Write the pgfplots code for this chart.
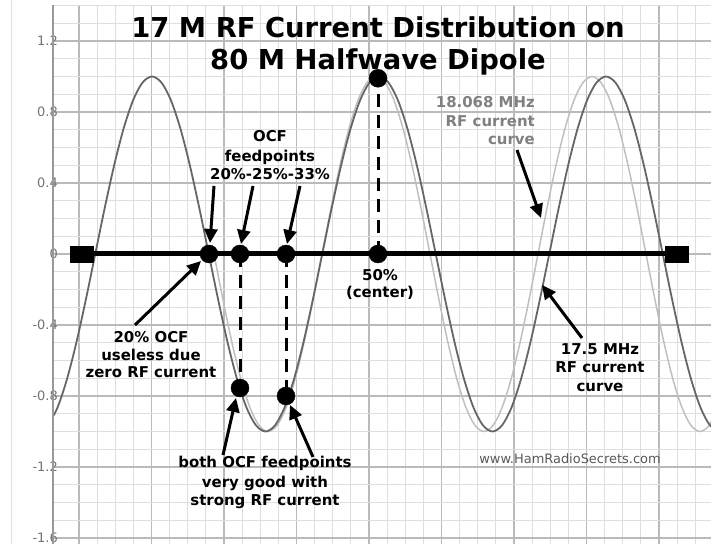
\documentclass[border=0pt]{standalone}
\usepackage{pgfplots}
\pgfplotsset{compat=1.18}
\usepackage{fontspec}
\setmainfont{DejaVu Sans}
\usetikzlibrary{arrows.meta}
\definecolor{darkcurve}{gray}{0.40}
\definecolor{lightcurve}{gray}{0.75}
\definecolor{txtgray}{gray}{0.50}
\definecolor{ticktxt}{gray}{0.45}
\begin{document}
\begin{tikzpicture}[
  ann/.style={font=\fontsize{15}{18}\selectfont\bfseries, anchor=base, inner sep=0pt},
  arr/.style={line width=3bp, -{Triangle[length=14bp,width=13bp]}},
]
\begin{axis}[
  scale only axis, width=658bp, height=538.5bp,
  xmin=53, xmax=711, ymin=-1.6338, ymax=1.4,
  axis line style={draw=none},
  xtick={79,151.5,...,700}, xticklabels={},
  minor xtick={79,97.125,...,710},
  ytick={-1.6,-1.2,-0.8,-0.4,0,0.4,0.8,1.2},
  yticklabels={-1.6,-1.2,-0.8,-0.4,0,0.4,0.8,1.2},
  minor ytick={-1.6,-1.5,-1.4,-1.3,-1.2,-1.1,-1.0,-0.9,-0.8,-0.7,-0.6,-0.5,-0.4,-0.3,-0.2,-0.1,0,0.1,0.2,0.3,0.4,0.5,0.6,0.7,0.8,0.9,1.0,1.1,1.2,1.3,1.4},
  grid=both,
  major grid style={line width=1.3bp, draw=black!27},
  minor grid style={line width=1bp, draw=black!13},
  tick style={draw=none},
  yticklabel style={font=\fontsize{13}{15}\selectfont, text=ticktxt, anchor=east, inner sep=0pt, xshift=5bp},
]
% 18.068 MHz curve (light)
\addplot[lightcurve, line width=1.5bp, smooth] coordinates {
(214,0) (223,-0.2588) (232,-0.5) (241,-0.7071) (250,-0.866) (259,-0.9659) (268,-1)
(277,-0.9659) (286,-0.866) (295,-0.7071) (304,-0.5) (313,-0.2588) (322,0)
(331,0.2588) (340,0.5) (349,0.7071) (358,0.866) (367,0.9659) (376,1)
(385,0.9659) (394,0.866) (403,0.7071) (412,0.5) (421,0.2588) (430,0)
(439,-0.2588) (448,-0.5) (457,-0.7071) (466,-0.866) (475,-0.9659) (484,-1)
(493,-0.9659) (502,-0.866) (511,-0.7071) (520,-0.5) (529,-0.2588) (538,0)
(547,0.2588) (556,0.5) (565,0.7071) (574,0.866) (583,0.9659) (592,1)
(601,0.9659) (610,0.866) (619,0.7071) (628,0.5) (637,0.2588) (646,0)
(655,-0.2588) (664,-0.5) (673,-0.7071) (682,-0.866) (691,-0.9659) (700,-1)
(709,-0.9659) (718,-0.866)
};
% 17.5 MHz curve (dark)
\addplot[darkcurve, line width=1.8bp, smooth] coordinates {
(47.96,-0.9659) (57.42,-0.866) (66.87,-0.7071) (76.33,-0.5) (85.79,-0.2588) (95.25,0)
(104.71,0.2588) (114.17,0.5) (123.63,0.7071) (133.08,0.866) (142.54,0.9659) (152,1)
(161.46,0.9659) (170.92,0.866) (180.38,0.7071) (189.83,0.5) (199.29,0.2588) (208.75,0)
(218.21,-0.2588) (227.67,-0.5) (237.13,-0.7071) (246.58,-0.866) (256.04,-0.9659) (265.5,-1)
(274.96,-0.9659) (284.42,-0.866) (293.88,-0.7071) (303.33,-0.5) (312.79,-0.2588) (322.25,0)
(331.71,0.2588) (341.17,0.5) (350.63,0.7071) (360.08,0.866) (369.54,0.9659) (379,1)
(388.46,0.9659) (397.92,0.866) (407.38,0.7071) (416.83,0.5) (426.29,0.2588) (435.75,0)
(445.21,-0.2588) (454.67,-0.5) (464.13,-0.7071) (473.58,-0.866) (483.04,-0.9659) (492.5,-1)
(501.96,-0.9659) (511.42,-0.866) (520.88,-0.7071) (530.33,-0.5) (539.79,-0.2588) (549.25,0)
(558.71,0.2588) (568.17,0.5) (577.63,0.7071) (587.08,0.866) (596.54,0.9659) (606,1)
(615.46,0.9659) (624.92,0.866) (634.38,0.7071) (643.83,0.5) (653.29,0.2588) (662.75,0)
(672.21,-0.2588) (681.67,-0.5) (691.13,-0.7071) (700.58,-0.866) (710.04,-0.9659) (719.5,-1)
};
% dipole wire
\addplot[black, line width=5bp] coordinates {(82,0) (677,0)};
\addplot[only marks, mark=square*, mark size=8.25bp, mark options={xscale=1.38, fill=black, draw=black}] coordinates {(82,0) (677,0)};
% dashed verticals
\addplot[black, line width=3bp, dash pattern=on 13bp off 8bp] coordinates {(240,0) (240,-0.755)};
\addplot[black, line width=3bp, dash pattern=on 13bp off 8bp] coordinates {(286,0) (286,-0.80)};
\addplot[black, line width=3bp, dash pattern=on 13bp off 8bp] coordinates {(378,0) (378,0.99)};
% points
\addplot[only marks, mark=*, mark size=9bp, mark options={fill=black, draw=black}] coordinates {
(209,0) (240,0) (286,0) (378,0) (378,0.99) (240,-0.755) (286,-0.80)};
% arrows
\draw[arr] (axis cs:214,0.3831) -- (axis cs:210,0.0620);
\draw[arr] (axis cs:253,0.3831) -- (axis cs:241,0.0563);
\draw[arr] (axis cs:300,0.3831) -- (axis cs:287,0.0563);
\draw[arr] (axis cs:135,-0.40) -- (axis cs:201,-0.0394);
\draw[arr] (axis cs:223,-1.1324) -- (axis cs:236,-0.8113);
\draw[arr] (axis cs:313,-1.1437) -- (axis cs:290,-0.8507);
\draw[arr] (axis cs:517,0.5859) -- (axis cs:541,0.2028);
\draw[arr] (axis cs:582,-0.4732) -- (axis cs:542,-0.1746);
% title
\node[font=\fontsize{27.5}{32}\selectfont\bfseries, anchor=base, inner sep=0pt] at (axis cs:378,1.2197) {17 M RF Current Distribution on};
\node[font=\fontsize{27.5}{32}\selectfont\bfseries, anchor=base, inner sep=0pt] at (axis cs:378,1.0366) {80 M Halfwave Dipole};
% annotations
\node[ann] at (axis cs:270,0.6310) {OCF};
\node[ann] at (axis cs:270,0.5239) {feedpoints};
\node[ann] at (axis cs:270,0.4169) {20\%-25\%-33\%};
\node[ann, anchor=base east, text=txtgray] at (axis cs:535,0.8225) {18.068 MHz};
\node[ann, anchor=base east, text=txtgray] at (axis cs:535,0.7155) {RF current};
\node[ann, anchor=base east, text=txtgray] at (axis cs:535,0.6141) {curve};
\node[ann] at (axis cs:380,-0.1521) {50\%};
\node[ann] at (axis cs:380,-0.2423) {(center)};
\node[ann] at (axis cs:151,-0.4958) {20\% OCF};
\node[ann] at (axis cs:151,-0.5972) {useless due};
\node[ann] at (axis cs:151,-0.6986) {zero RF current};
\node[ann] at (axis cs:600,-0.5634) {17.5 MHz};
\node[ann] at (axis cs:600,-0.6704) {RF current};
\node[ann] at (axis cs:600,-0.7746) {curve};
\node[ann] at (axis cs:265,-1.2056) {both OCF feedpoints};
\node[ann] at (axis cs:265,-1.3127) {very good with};
\node[ann] at (axis cs:265,-1.4141) {strong RF current};
\node[font=\fontsize{13}{15}\selectfont, text=black!65, anchor=base, inner sep=0pt] at (axis cs:570,-1.1775) {www.HamRadioSecrets.com};
% helper coordinates
\coordinate (spT) at (axis cs:53,1.4);
\coordinate (spB) at (axis cs:53,-1.6338);
\coordinate (flT) at (axis cs:12,1.4310);
\coordinate (flB) at (axis cs:12,-1.6338);
\coordinate (bbNW) at (axis cs:0,1.4310);
\coordinate (bbSE) at (axis cs:711,-1.6338);
\end{axis}
\draw[black!40, line width=1.5bp] (spT) -- (spB);
\draw[black!12, line width=1bp] (flT) -- (flB);
\pgfresetboundingbox
\path[use as bounding box] (bbNW) rectangle (bbSE);
\end{tikzpicture}
\end{document}
